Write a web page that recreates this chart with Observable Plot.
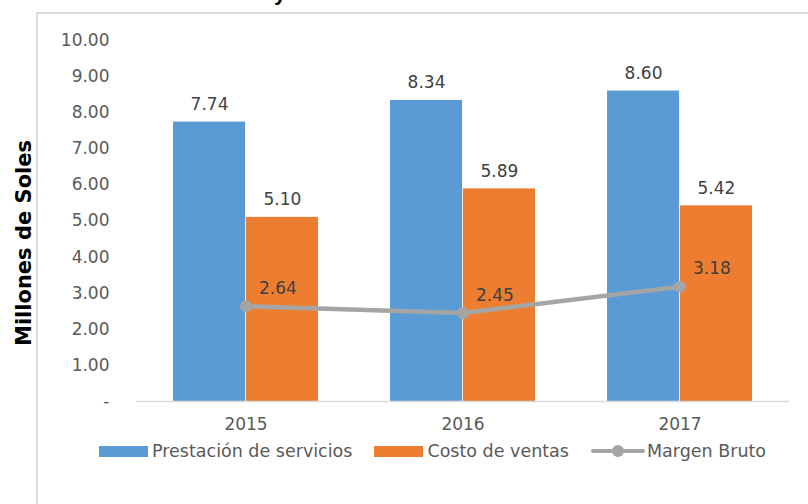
<!DOCTYPE html>
<html>
<head>
<meta charset="utf-8">
<script src="https://cdn.jsdelivr.net/npm/d3@7"></script>
<script src="https://cdn.jsdelivr.net/npm/@observablehq/plot@0.6"></script>
<style>
  html, body { margin: 0; padding: 0; background: #fff; }
  #wrap { position: relative; width: 808px; height: 504px; overflow: hidden; background: #fff; }
  #frame { position: absolute; left: 36px; top: 12px; width: 900px; height: 600px; border: 2px solid #d9d9d9; box-sizing: border-box; }
  #title { position: absolute; left: 274px; top: -18px; font: bold 22px "Liberation Sans", Arial, sans-serif; color: #000; white-space: nowrap; line-height: 22px; }
  #chart { position: absolute; left: 0; top: 0; }
  #ylabel { position: absolute; left: 24px; top: 243px; transform: translate(-50%, -50%) rotate(-90deg); font: bold 21px "DejaVu Sans", sans-serif; color: #000; white-space: nowrap; }
  #legend { position: absolute; left: 99px; top: 441px; display: flex; align-items: center; font: 17.5px "DejaVu Sans", sans-serif; color: #595959; white-space: nowrap; }
  .item { display: flex; align-items: center; margin-right: 22px; }
  .sw { width: 49px; height: 11px; margin-right: 4px; }
  .ln { width: 54px; height: 12px; margin-right: 2px; position: relative; }
  .ln::before { content: ""; position: absolute; left: 0; right: 0; top: 4px; height: 4px; background: #a5a5a5; border-radius: 2px; }
  .ln::after { content: ""; position: absolute; left: 21px; top: 0; width: 12px; height: 12px; border-radius: 50%; background: #a5a5a5; }
</style>
</head>
<body>
<div id="wrap">
  <div id="frame"></div>
  <div id="title">y el costo de ventas</div>
  <div id="chart"></div>
  <div id="ylabel">Millones de Soles</div>
  <div id="legend"></div>
</div>
<script>
const years = ["2015", "2016", "2017"];
const prestacion = [7.74, 8.34, 8.60];
const costo = [5.10, 5.89, 5.42];
const margen = [2.64, 2.45, 3.18];
const yTicks = [0, 1, 2, 3, 4, 5, 6, 7, 8, 9, 10];
const seriesNames = ["Prestación de servicios", "Costo de ventas", "Margen Bruto"];
const seriesColors = ["#5b9bd5", "#ed7d31", "#a5a5a5"];

const table = years.map((y, i) => ({year: y, prestacion: prestacion[i], costo: costo[i], margen: margen[i]}));

const W = 808, H = 440, mL = 136, mR = 19, mT = 40, mB = 39;
const padIn = 0.33, padOut = 0.165;
const step = (W - mL - mR) / (years.length - padIn + 2 * padOut);
const bw = step * (1 - padIn);

const font = '"DejaVu Sans", sans-serif';

const plot = Plot.plot({
  width: W, height: H,
  marginLeft: mL, marginRight: mR, marginTop: mT, marginBottom: mB,
  style: {fontFamily: font, color: "#595959", background: "transparent", overflow: "visible"},
  x: {type: "band", domain: years, paddingInner: padIn, paddingOuter: padOut},
  y: {domain: [0, 10]},
  marks: [
    Plot.axisY({ticks: yTicks, tickSize: 0, tickPadding: 27, fontSize: 17, label: null,
      tickFormat: d => d === 0 ? "-" : d.toFixed(2)}),
    Plot.axisX({tickSize: 0, tickPadding: 16, fontSize: 17, label: null}),
    Plot.barY(table, {x: "year", y: "prestacion", fill: seriesColors[0], insetRight: bw / 2}),
    Plot.barY(table, {x: "year", y: "costo", fill: seriesColors[1], insetLeft: bw / 2}),
    Plot.ruleY([0], {stroke: "#d9d9d9", strokeWidth: 1.5}),
    Plot.text(table, {x: "year", y: "prestacion", text: d => d.prestacion.toFixed(2), dx: -bw / 4, dy: -12,
      lineAnchor: "bottom", fill: "#404040", fontSize: 17}),
    Plot.text(table, {x: "year", y: "costo", text: d => d.costo.toFixed(2), dx: bw / 4, dy: -12,
      lineAnchor: "bottom", fill: "#404040", fontSize: 17}),
    Plot.line(table, {x: "year", y: "margen", stroke: seriesColors[2], strokeWidth: 4.5, curve: "linear"}),
    Plot.dot(table, {x: "year", y: "margen", fill: seriesColors[2], r: 6}),
    Plot.text(table, {x: "year", y: "margen", text: d => d.margen.toFixed(2), dx: 13, dy: -18,
      textAnchor: "start", fill: "#404040", fontSize: 17})
  ]
});
document.getElementById("chart").appendChild(plot);

const legend = document.getElementById("legend");
seriesNames.forEach((name, i) => {
  const item = document.createElement("div");
  item.className = "item";
  const sw = document.createElement("div");
  if (i < 2) { sw.className = "sw"; sw.style.background = seriesColors[i]; }
  else { sw.className = "ln"; }
  const t = document.createElement("span");
  t.textContent = name;
  item.appendChild(sw); item.appendChild(t);
  legend.appendChild(item);
});
</script>
</body>
</html>
